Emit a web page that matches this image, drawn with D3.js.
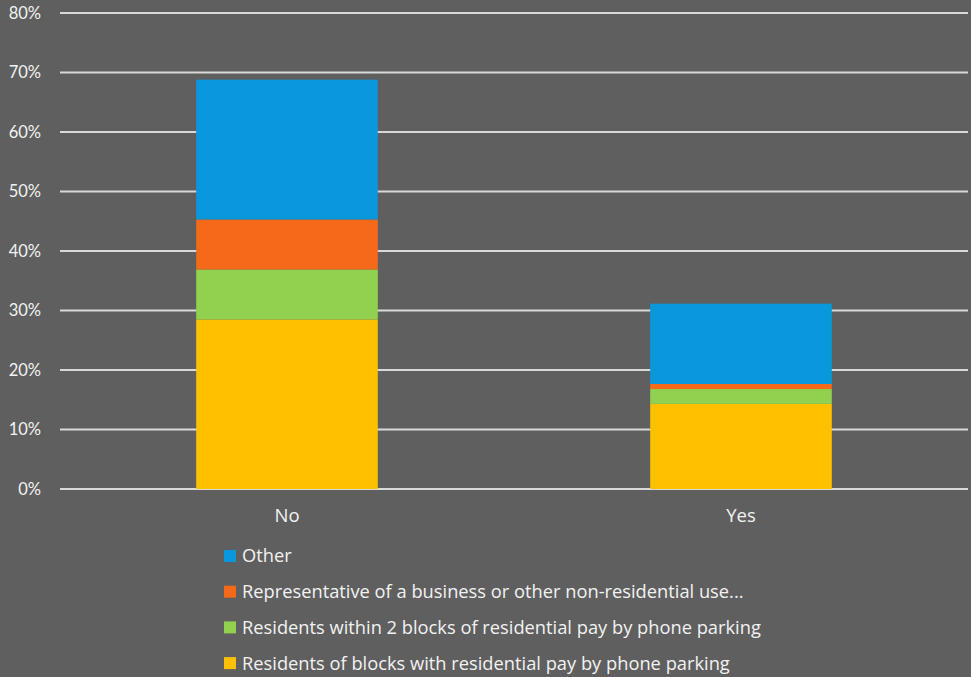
<!DOCTYPE html>
<html>
<head>
<meta charset="utf-8">
<script src="https://cdn.jsdelivr.net/npm/d3@7/dist/d3.min.js"></script>
<style>
  html, body { margin: 0; padding: 0; background: #5f5f5f; }
  svg { display: block; }
  text { font-family: Lato, "Open Sans", sans-serif; fill: #f2f2f2; }
  .big { font-family: "Open Sans", Lato, sans-serif; }
</style>
</head>
<body>
<svg id="chart" width="971" height="677"></svg>
<script>
const categories = ["No", "Yes"];
const seriesNames = [
  "Residents of blocks with residential pay by phone parking",
  "Residents within 2 blocks of residential pay by phone parking",
  "Representative of a business or other non-residential use...",
  "Other"
];
const residentsOf = [28.5, 14.3];
const residentsWithin = [8.4, 2.5];
const representative = [8.4, 0.85];
const other = [23.5, 13.5];
const seriesColors = ["#FFC000", "#92D050", "#F5691B", "#0A98DD"];
const yTicks = [0, 10, 20, 30, 40, 50, 60, 70, 80];
const legendOrder = ["Other",
  "Representative of a business or other non-residential use...",
  "Residents within 2 blocks of residential pay by phone parking",
  "Residents of blocks with residential pay by phone parking"];

const seriesValues = [residentsOf, residentsWithin, representative, other];
const table = categories.map((c, i) => {
  const row = { cat: c };
  seriesNames.forEach((s, k) => row[s] = seriesValues[k][i]);
  return row;
});
const stacked = d3.stack().keys(seriesNames)(table);

const svg = d3.select("#chart");
const x = d3.scaleBand().domain(categories).range([60, 968]).paddingInner(0.6).paddingOuter(0.3);
const y = d3.scaleLinear().domain([0, 80]).range([489, 13]);
const color = d3.scaleOrdinal().domain(seriesNames).range(seriesColors);

// gridlines
svg.append("g").selectAll("line").data(yTicks).join("line")
  .attr("x1", 60).attr("x2", 968)
  .attr("y1", d => y(d)).attr("y2", d => y(d))
  .attr("stroke", "#d9d9d9").attr("stroke-width", 2);

// y labels
svg.append("g").selectAll("text").data(yTicks).join("text")
  .attr("x", 41).attr("y", d => y(d)).attr("dy", "0.35em")
  .attr("text-anchor", "end").attr("font-size", 16.5)
  .text(d => d + "%");

// bars
svg.append("g").selectAll("g").data(stacked).join("g")
  .attr("fill", d => color(d.key))
  .selectAll("rect").data(d => d).join("rect")
  .attr("x", d => x(d.data.cat))
  .attr("width", x.bandwidth())
  .attr("y", d => y(d[1]))
  .attr("height", d => y(d[0]) - y(d[1]));

// x labels
svg.append("g").selectAll("text").data(categories).join("text")
  .attr("class", "big")
  .attr("x", d => x(d) + x.bandwidth() / 2).attr("y", 516).attr("dy", "0.35em")
  .attr("text-anchor", "middle").attr("font-size", 18.5)
  .text(d => d);

// legend
const lg = svg.append("g").selectAll("g").data(legendOrder).join("g")
  .attr("transform", (d, i) => `translate(224, ${556 + i * 35.7})`);
lg.append("rect").attr("x", 0).attr("y", -6).attr("width", 12).attr("height", 12)
  .attr("fill", d => color(d));
lg.append("text").attr("class", "big").attr("x", 18).attr("y", 0).attr("dy", "0.35em")
  .attr("font-size", 18.3).text(d => d);
</script>
</body>
</html>
